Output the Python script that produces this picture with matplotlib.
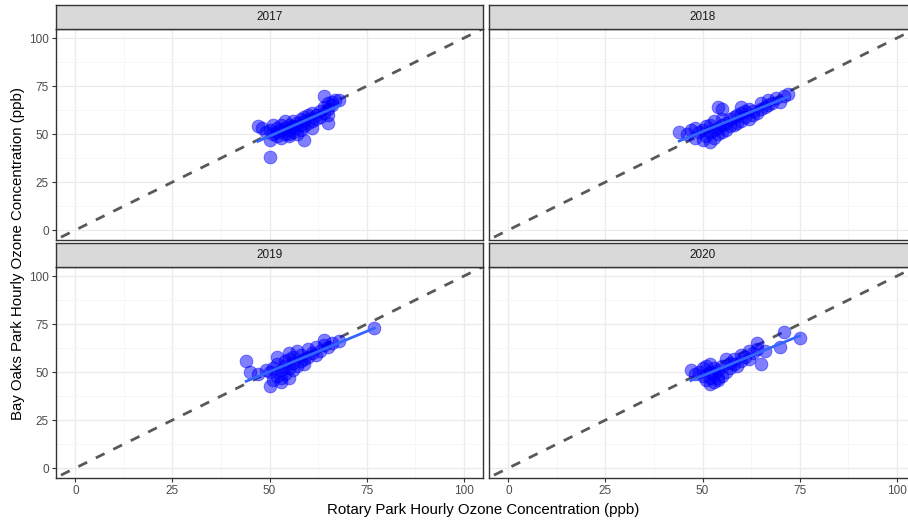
"""
Rotary Park vs Bay Oaks Park hourly ozone, faceted by year.
"""
import matplotlib
matplotlib.use("Agg")
import matplotlib.pyplot as plt
import numpy as np

plt.rcParams['font.family'] = ['Liberation Sans', 'DejaVu Sans']

years = ['2017', '2018', '2019', '2020']

# Rotary Park (x) / Bay Oaks Park (y), ppb
x17 = [47, 48, 49, 50, 50, 51, 51, 52, 52, 52, 53, 53, 53, 54, 54, 54, 55, 55, 55, 55,
       56, 56, 56, 57, 57, 57, 58, 58, 58, 59, 59, 59, 60, 60, 61, 61, 62, 62, 63, 63,
       64, 64, 65, 65, 65, 66, 66, 67, 68, 50, 59, 61, 65, 64]
y17 = [54, 53, 51, 52, 47, 50, 55, 49, 53, 51, 48, 52, 55, 50, 53, 57, 49, 52, 55, 50,
       51, 54, 57, 50, 53, 56, 52, 55, 58, 54, 57, 59, 56, 60, 57, 61, 58, 60, 59, 62,
       61, 64, 63, 66, 60, 65, 67, 68, 68, 38, 47, 53, 56, 70]

x18 = [44, 46, 47, 48, 48, 49, 50, 50, 51, 51, 52, 52, 52, 53, 53, 53, 54, 54, 54, 55,
       55, 55, 56, 56, 57, 57, 58, 58, 59, 59, 60, 60, 61, 61, 62, 62, 63, 63, 64, 65,
       65, 66, 67, 67, 68, 69, 70, 71, 72, 55, 60]
y18 = [51, 50, 52, 48, 53, 51, 47, 52, 49, 54, 46, 51, 55, 48, 52, 57, 50, 53, 64, 51,
       55, 58, 52, 56, 54, 58, 55, 59, 56, 60, 57, 64, 59, 62, 58, 63, 60, 62, 61, 63,
       66, 64, 65, 68, 66, 69, 67, 70, 71, 63, 61]

x19 = [44, 45, 47, 49, 50, 50, 51, 51, 52, 52, 52, 53, 53, 54, 54, 54, 55, 55, 55, 56,
       56, 56, 57, 57, 58, 58, 59, 59, 60, 60, 61, 62, 62, 63, 64, 64, 65, 66, 68, 77,
       53, 55]
y19 = [56, 50, 49, 51, 43, 50, 46, 52, 48, 54, 58, 47, 51, 53, 56, 49, 52, 57, 60, 51,
       55, 58, 53, 61, 56, 59, 54, 57, 58, 62, 60, 59, 63, 61, 64, 67, 63, 65, 66, 73,
       45, 47]

x20 = [47, 48, 49, 50, 50, 51, 51, 52, 52, 52, 53, 53, 53, 54, 54, 55, 55, 56, 56, 57,
       57, 58, 58, 59, 60, 60, 61, 62, 62, 63, 64, 64, 65, 66, 70, 71, 75, 52, 54]
y20 = [51, 49, 50, 48, 52, 46, 53, 47, 50, 54, 45, 49, 52, 47, 51, 48, 53, 50, 57, 52,
       55, 54, 57, 53, 56, 59, 58, 57, 61, 60, 62, 65, 54, 61, 63, 71, 68, 44, 46]

xs = [x17, x18, x19, x20]
ys = [y17, y18, y19, y20]

ticks = [0, 25, 50, 75, 100]

W, H = 908, 524
fig = plt.figure(figsize=(W / 100, H / 100), dpi=100)

# panel boxes in pixels: (left, top), same size for all four
pw, ph = 427, 211
boxes = [(56, 29), (489, 29), (56, 267), (489, 267)]
strip_h = 24

for i, (left, top) in enumerate(boxes):
    ax = fig.add_axes([left / W, 1 - (top + ph) / H, pw / W, ph / H])
    x = np.array(xs[i], dtype=float)
    y = np.array(ys[i], dtype=float)

    ax.set_xlim(-5, 105)
    ax.set_ylim(-5.2, 104.8)
    ax.set_xticks(ticks)
    ax.set_yticks(ticks)
    ax.set_xticks([12.5, 37.5, 62.5, 87.5], minor=True)
    ax.set_yticks([12.5, 37.5, 62.5, 87.5], minor=True)
    ax.grid(True, which='major', color='#ebebeb', lw=0.9)
    ax.grid(True, which='minor', color='#f4f4f4', lw=0.5)
    ax.set_axisbelow(True)
    ax.tick_params(which='minor', length=0)
    ax.tick_params(which='major', length=3, width=0.8, color='#333333',
                   labelcolor='#4d4d4d', labelsize=8.5, pad=2)
    for s in ax.spines.values():
        s.set_color('#333333')
        s.set_linewidth(1.0)

    # tick labels only on the outer panels
    if i in (0, 1):
        ax.set_xticklabels([])
        ax.tick_params(axis='x', length=0)
    if i in (1, 3):
        ax.set_yticklabels([])
        ax.tick_params(axis='y', length=0)

    # 1:1 reference line
    ax.axline((0, 0), slope=1, color='#595959', lw=2.0, ls=(5, (3.5, 3.5)), zorder=2)

    ax.scatter(x, y, s=85, color='#0000ff', alpha=0.5, edgecolors='#0000ff',
               linewidths=0.6, zorder=3)

    # least squares fit
    b, a = np.polyfit(x, y, 1)
    xx = np.array([x.min(), x.max()])
    ax.plot(xx, a + b * xx, color='#3366ff', lw=2.0, zorder=4)

    # facet strip
    sax = fig.add_axes([left / W, 1 - top / H, pw / W, strip_h / H])
    sax.set_facecolor('#d9d9d9')
    sax.set_xticks([])
    sax.set_yticks([])
    for s in sax.spines.values():
        s.set_color('#333333')
        s.set_linewidth(1.0)
    sax.text(0.5, 0.5, years[i], ha='center', va='center', fontsize=8.5,
             color='#1a1a1a', transform=sax.transAxes)

fig.text(483 / W, 1 - 510 / H, 'Rotary Park Hourly Ozone Concentration (ppb)',
         ha='center', va='center', fontsize=10.8)
fig.text(18 / W, 1 - 253 / H, 'Bay Oaks Park Hourly Ozone Concentration (ppb)',
         ha='center', va='center', rotation=90, fontsize=10.8)

plt.savefig('out.png', dpi=100)
